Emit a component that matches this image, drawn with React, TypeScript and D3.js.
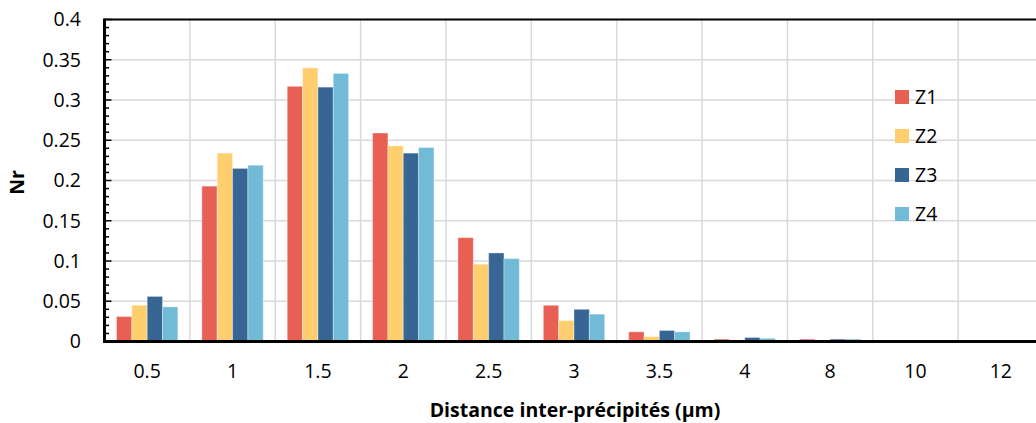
import React from "react";
import * as d3 from "d3";

const categories = ["0.5", "1", "1.5", "2", "2.5", "3", "3.5", "4", "8", "10", "12"];
const seriesNames = ["Z1", "Z2", "Z3", "Z4"];
const z1 = [0.031, 0.193, 0.317, 0.259, 0.129, 0.045, 0.012, 0.003, 0.003, 0, 0];
const z2 = [0.045, 0.234, 0.340, 0.243, 0.096, 0.026, 0.006, 0.0016, 0.0015, 0, 0];
const z3 = [0.056, 0.215, 0.316, 0.234, 0.110, 0.040, 0.0137, 0.005, 0.003, 0, 0];
const z4 = [0.043, 0.219, 0.333, 0.241, 0.103, 0.034, 0.012, 0.004, 0.003, 0, 0];
const yTicks = [0, 0.05, 0.1, 0.15, 0.2, 0.25, 0.3, 0.35, 0.4];
const colors = ["#E86054", "#FFCE6E", "#376695", "#72BBD6"];

const W = 1036;
const H = 423;
const left = 104.5;
const right = 1043.5;
const top = 19.5;
const bottom = 341.5;
const FONT = "'Open Sans', 'Noto Sans', sans-serif";
const FS = 19.5;

export default function App() {
  const data = [z1, z2, z3, z4];
  const x0 = d3.scaleBand<string>().domain(categories).range([left, right]).padding(0);
  const bw = x0.bandwidth();
  const x1 = d3.scaleBand<string>().domain(seriesNames).range([12, bw - 12]).padding(0);
  const y = d3.scaleLinear().domain([0, 0.4]).range([bottom, top]);
  const minor = d3.range(0, 41).map((i) => i / 100);

  return (
    <svg
      width={W}
      height={H}
      style={{ position: "absolute", left: 0, top: 0, background: "#fff", overflow: "hidden" }}
    >
      <rect x={0} y={0} width={W} height={H} fill="#fff" />
      {yTicks.slice(1, -1).map((t) => (
        <line key={"h" + t} x1={left} x2={right} y1={y(t)} y2={y(t)} stroke="#d9d9d9" strokeWidth={1.5} />
      ))}
      {categories.slice(1).map((c) => (
        <line key={"v" + c} x1={x0(c)!} x2={x0(c)!} y1={top} y2={bottom} stroke="#d9d9d9" strokeWidth={1.5} />
      ))}
      {data.map((vals, si) =>
        vals.map((v, ci) => {
          const xb = x0(categories[ci])! + x1(seriesNames[si])!;
          const yt = y(v);
          const h = bottom - yt;
          if (h <= 0) return null;
          return (
            <rect
              key={si + "-" + ci}
              x={xb}
              y={yt}
              width={x1.bandwidth()}
              height={h}
              fill={colors[si]}
              stroke="rgba(255,255,255,0.35)"
              strokeWidth={1}
            />
          );
        })
      )}
      <line x1={left} x2={right} y1={top} y2={top} stroke="#000" strokeWidth={2} />
      <line x1={left} x2={right} y1={bottom} y2={bottom} stroke="#000" strokeWidth={3} />
      <line x1={left} x2={left} y1={top - 1} y2={bottom + 1.5} stroke="#000" strokeWidth={3} />
      {minor.map((t, i) => (
        <line
          key={"m" + i}
          x1={left}
          x2={left + (i % 5 === 0 ? 7 : 4.5)}
          y1={y(t)}
          y2={y(t)}
          stroke="#000"
          strokeWidth={1.5}
        />
      ))}
      {yTicks.map((t) => (
        <text
          key={"yl" + t}
          x={81}
          y={y(t)}
          dy="0.35em"
          textAnchor="end"
          fontFamily={FONT}
          fontSize={FS}
          fill="#000"
        >
          {String(t)}
        </text>
      ))}
      {categories.map((c) => (
        <text
          key={"xl" + c}
          x={x0(c)! + bw / 2}
          y={378}
          textAnchor="middle"
          fontFamily={FONT}
          fontSize={FS}
          fill="#000"
        >
          {c}
        </text>
      ))}
      <text
        x={575}
        y={417}
        textAnchor="middle"
        fontFamily={FONT}
        fontSize={FS}
        fontWeight="bold"
        fill="#000"
      >
        Distance inter-précipités (µm)
      </text>
      <text
        transform={`translate(24,${(top + bottom) / 2 + 2}) rotate(-90)`}
        textAnchor="middle"
        fontFamily={FONT}
        fontSize={FS}
        fontWeight="bold"
        fill="#000"
      >
        Nr
      </text>
      {seriesNames.map((s, i) => (
        <g key={"lg" + s} transform={`translate(895,${90 + i * 39})`}>
          <rect x={0} y={0} width={14} height={14} fill={colors[i]} />
          <text x={20} y={7} dy="0.35em" fontFamily={FONT} fontSize={FS} fill="#000">
            {s}
          </text>
        </g>
      ))}
    </svg>
  );
}
